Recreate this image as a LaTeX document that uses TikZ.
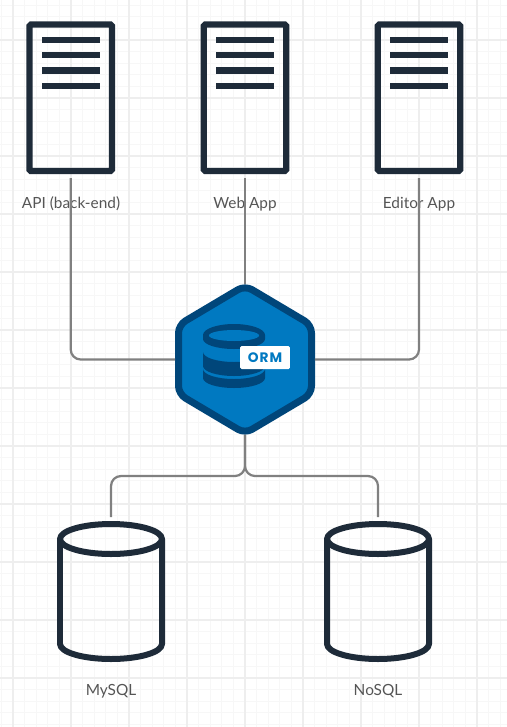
\documentclass[tikz,border=0pt]{standalone}
\usepackage{fontspec}
\setmainfont{Lato}
\newfontfamily\ormfont{Poppins}[LetterSpace=8]
\usetikzlibrary{positioning}
\definecolor{inkdark}{HTML}{1E2B39}
\definecolor{ormblue}{HTML}{0079C1}
\definecolor{ormdark}{HTML}{00467A}
\definecolor{wiregray}{HTML}{808080}
\definecolor{labelgray}{HTML}{555555}
\definecolor{gridmajor}{HTML}{EEEEEE}
\definecolor{gridminor}{HTML}{F7F7F7}
\tikzset{
  server/.style={draw=inkdark,line width=0.126cm,rounded corners=0.03cm,inner sep=0pt,
    minimum width=1.65cm,minimum height=2.93cm},
  bar/.style={fill=inkdark},
  dbbox/.style={inner sep=0pt,outer sep=0pt,minimum width=2.04cm,minimum height=2.96cm},
  dbline/.style={draw=inkdark,line width=0.12cm,line join=round},
  ormbox/.style={inner sep=0pt,outer sep=0pt,minimum width=2.8cm,minimum height=3.02cm},
  wire/.style={draw=wiregray,line width=0.045cm,rounded corners=0.2cm},
  label/.style={text=labelgray,font=\fontsize{8.75pt}{10pt}\selectfont,inner sep=0pt,anchor=base},
}
\begin{document}
\begin{tikzpicture}[x=0.02cm,y=-0.02cm]
\useasboundingbox (0,0) rectangle (507,727);

% grid
\foreach \i in {0,...,43} \draw[gridminor,line width=0.02cm] ({1.4+11.6*\i},0) -- ({1.4+11.6*\i},727);
\foreach \i in {0,...,62} \draw[gridminor,line width=0.02cm] (0,{5.2+11.6*\i}) -- (507,{5.2+11.6*\i});
\foreach \i in {0,...,8} \draw[gridmajor,line width=0.03cm] ({13+58*\i},0) -- ({13+58*\i},727);
\foreach \i in {0,...,11} \draw[gridmajor,line width=0.03cm] (0,{40+58*\i}) -- (507,{40+58*\i});

% servers
\node[server] (api) at (70.7,97.8) {};
\node[server] (web) at (245,97.8) {};
\node[server] (editor) at (419,97.8) {};
\foreach \c in {70.7,245,419}
  \foreach \y in {36.8,52,67.4,82.8}
    \fill[bar] (\c-29,\y) rectangle (\c+29,\y+6.4);

\node[label] (apilabel) at (71,208) {API (back-end)};
\node[label] (weblabel) at (245,208) {Web App};
\node[label] (editorlabel) at (419,208) {Editor App};

% orm hexagon
\node[ormbox] (orm) at (245,359.5) {};
\draw[draw=ormdark,fill=ormblue,line width=0.14cm,rounded corners=0.16cm,line join=round]
  (245,285.5) -- (311.5,325) -- (311.5,394) -- (245,433.5) -- (178.5,394) -- (178.5,325) -- cycle;
\fill[ormdark] (203,335) -- (203,339) arc[start angle=180,end angle=0,x radius=31,y radius=10] -- (265,335)
  arc[start angle=0,end angle=-180,x radius=31,y radius=11];
\fill[ormblue] (234,335.5) ellipse[x radius=25,y radius=5.5];
\fill[ormdark] (203,352) arc[start angle=180,end angle=0,x radius=31,y radius=10]
  -- (265,366) arc[start angle=0,end angle=180,x radius=31,y radius=10] -- cycle;
\fill[ormdark] (203,369) arc[start angle=180,end angle=0,x radius=31,y radius=10]
  -- (265,378) arc[start angle=0,end angle=180,x radius=31,y radius=10] -- cycle;
\node[fill=white,rounded corners=0.03cm,minimum width=1cm,minimum height=0.46cm,inner sep=0pt,
  text=ormblue,font=\ormfont\bfseries\fontsize{7.8pt}{9pt}\selectfont] (ormtag) at (265,357.5) {ORM};

% databases
\node[dbbox] (mysql) at (111,591) {};
\node[dbbox] (nosql) at (378,591) {};
\foreach \c in {111,378} {
  \draw[dbline] (\c,539) ellipse[x radius=51,y radius=15];
  \draw[dbline] (\c-51,539) -- (\c-51,644) arc[start angle=180,end angle=0,x radius=51,y radius=15] -- (\c+51,539);
}
\node[label] (mysqllabel) at (111,695.5) {MySQL};
\node[label] (nosqllabel) at (378,695.5) {NoSQL};

% connectors
\draw[wire,shorten <=0.08cm] (api.south) |- (orm.west);
\draw[wire,shorten <=0.08cm] (web.south) -- (orm.north);
\draw[wire,shorten <=0.08cm] (editor.south) |- (orm.east);
\coordinate (bus) at (245,476);
\draw[wire] (orm.south) -- (bus) -| (mysql.north);
\draw[wire] (orm.south) -- (bus) -| (nosql.north);
\end{tikzpicture}
\end{document}
